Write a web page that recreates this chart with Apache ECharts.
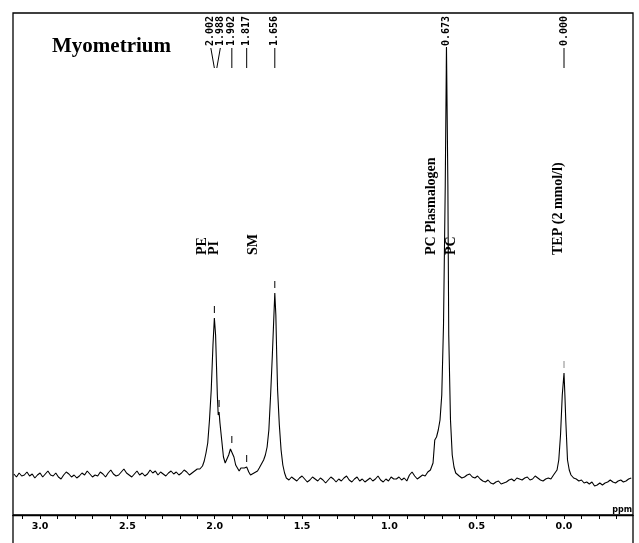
<!DOCTYPE html>
<html><head><meta charset="utf-8">
<script src="https://cdn.jsdelivr.net/npm/echarts@6/dist/echarts.min.js"></script>
<style>html,body{margin:0;padding:0;background:#fff}#c{width:639px;height:543px}</style>
</head><body><div id="c"></div>
<script>
// ---- data ----
const title = 'Myometrium';
const ppm = [
 3.150,3.135,3.120,3.105,3.090,3.075,3.060,3.045,3.030,3.015,3.000,2.985,2.970,2.955,2.940,2.925,2.910,2.895,2.880,2.865,2.850,2.835,2.820,2.805,2.790,2.775,2.760,2.745,2.730,2.715,2.700,2.685,2.670,2.655,2.640,2.625,2.610,2.595,2.580,2.565,2.550,2.535,2.520,2.505,2.490,2.475,2.460,2.445,2.430,2.415,2.400,2.385,2.370,2.355,2.340,2.325,2.310,2.295,2.280,2.265,2.250,2.235,2.220,2.205,2.190,2.175,2.160,2.145,2.130,2.115,2.100,
 2.085,2.070,2.060,2.050,2.040,2.030,2.020,2.010,2.002,1.995,1.990,1.985,1.980,1.975,1.970,1.960,1.950,1.940,1.930,1.920,1.910,1.902,1.890,1.880,1.870,1.860,1.850,1.840,1.830,1.817,1.805,1.795,1.785,1.775,1.765,1.755,1.745,1.735,1.720,1.710,1.700,1.690,1.680,1.670,1.656,1.650,1.645,1.640,1.630,1.620,1.610,1.600,
 1.590,1.575,1.560,1.545,1.530,1.515,1.500,1.485,1.470,1.455,1.440,1.425,1.410,1.395,1.380,1.365,1.350,1.335,1.320,1.305,1.290,1.275,1.260,1.245,1.230,1.215,1.200,1.185,1.170,1.155,1.140,1.125,1.110,1.095,1.080,1.065,1.050,1.035,1.020,1.005,0.990,0.975,0.960,0.945,0.930,0.915,0.900,0.885,0.870,0.855,0.840,0.825,0.810,0.795,0.780,
 0.765,0.750,0.740,0.730,0.720,0.710,0.700,0.690,0.680,0.673,0.665,0.660,0.650,0.640,0.630,0.620,
 0.600,0.585,0.570,0.555,0.540,0.525,0.510,0.495,0.480,0.465,0.450,0.435,0.420,0.405,0.390,0.375,0.360,0.345,0.330,0.315,0.300,0.285,0.270,0.255,0.240,0.225,0.210,0.195,0.180,0.165,0.150,0.135,0.120,0.105,0.090,0.075,0.060,
 0.040,0.030,0.020,0.010,0.000,-0.005,-0.010,-0.020,-0.030,-0.040,
 -0.055,-0.070,-0.085,-0.100,-0.115,-0.130,-0.145,-0.160,-0.175,-0.190,-0.205,-0.220,-0.235,-0.250,-0.265,-0.280,-0.295,-0.310,-0.325,-0.340,-0.355,-0.370,-0.385];
const intensity = [
 41,38,42,39,40,43,39,41,37,40,42,38,41,44,40,39,42,38,36,40,43,41,38,40,37,39,42,40,44,41,38,40,39,43,41,38,42,45,41,39,40,43,46,42,40,38,41,44,40,42,39,41,45,42,44,40,43,41,39,42,44,41,43,40,42,45,43,40,42,44,46,
 46,49,54,62,72,95,125,170,197,180,150,120,100,103,92,75,58,52,54,60,66,67,58,50,47,44,47,45,47,48,43,40,38,42,41,44,47,49,55,60,68,85,120,160,222,200,160,125,90,65,50,42,
 37,35,38,36,34,37,39,36,33,35,38,36,34,37,35,32,35,38,36,33,36,34,37,39,35,33,36,38,34,36,33,35,37,34,36,39,35,33,36,34,38,36,36,38,35,37,34,40,43,39,36,38,40,39,43,
 45,52,75,78,85,95,120,190,330,468,330,180,95,60,48,42,
 39,37,38,40,41,38,37,39,36,34,33,35,32,31,33,34,31,32,33,35,36,34,37,36,35,37,38,35,36,39,37,35,34,36,37,36,40,
 45,55,80,120,142,120,95,55,45,40,
 37,36,34,35,32,33,31,33,29,30,32,30,32,33,35,33,32,34,35,33,34,36,37];
const pickPpm  = [2.002, 1.988, 1.902, 1.817, 1.656, 0.673, 0.000];
const pickText = ['2.002','1.988','1.902','1.817','1.656','0.673','0.000'];
const markerPpm = [2.002, 1.975, 1.902, 1.817, 1.656, 0.000];
const nameText = ['PE','PI','SM','PC Plasmalogen','PC','TEP (2 mmol/l)'];
const namePpm  = [2.07, 2.00, 1.78, 0.76, 0.645, 0.035];
const nameLevel = 260;
const tickLabels = ['3.0','2.5','2.0','1.5','1.0','0.5','0.0'];
const minorTicks = [3.1,3.0,2.9,2.8,2.7,2.6,2.5,2.4,2.3,2.2,2.1,2.0,1.9,1.8,1.7,1.6,1.5,1.4,1.3,1.2,1.1,1.0,0.9,0.8,0.7,0.6,0.5,0.4,0.3,0.2,0.1,0.0,-0.1,-0.2,-0.3];
const axisUnit = 'ppm';

// ---- chart ----
const chart = echarts.init(document.getElementById('c'), null, {renderer:'canvas'});
const spectrum = ppm.map((p,i)=>[p,intensity[i]]);

function peakValueNear(p){
  let best = 0;
  for (let i=0;i<ppm.length;i++){ if (Math.abs(ppm[i]-p) < 0.006) best = Math.max(best, intensity[i]); }
  return best;
}

function renderAnn(params, api){
  const cs = params.coordSys;
  const top = cs.y;
  const children = [];
  const px = pickPpm.map(p => api.coord([p,0])[0]);
  let lx = px.slice();
  const gap = 9.5;
  for (let iter=0; iter<10; iter++){
    let changed = false;
    let i = 0;
    while (i < lx.length){
      let j = i;
      while (j+1 < lx.length && lx[j+1]-lx[j] < gap - 0.01) j++;
      if (j > i){
        let mean = 0; for (let k=i;k<=j;k++) mean += px[k]; mean /= (j-i+1);
        const start = mean - gap*(j-i)/2;
        for (let k=i;k<=j;k++) lx[k] = start + gap*(k-i);
        changed = true;
      }
      i = j+1;
    }
    if (!changed) break;
  }
  for (let k=0;k<px.length;k++){
    children.push({type:'text', x: lx[k], y: top+33, rotation: Math.PI/2,
      style:{text: pickText[k], align:'left', verticalAlign:'middle', font:'bold 10px "DejaVu Sans Mono"', fill:'#000'}});
    children.push({type:'line', shape:{x1: lx[k], y1: top+35, x2: px[k], y2: top+55},
      style:{stroke:'#000', lineWidth:1}});
  }
  markerPpm.forEach(p => {
    const c = api.coord([p, peakValueNear(p)]);
    children.push({type:'line', shape:{x1:c[0], y1:c[1]-5, x2:c[0], y2:c[1]-12},
      style:{stroke: p===0 ? '#888' : '#000', lineWidth:1}});
  });
  nameText.forEach((t,i) => {
    const c = api.coord([namePpm[i], nameLevel]);
    children.push({type:'text', x:c[0], y:c[1], rotation: Math.PI/2,
      style:{text:t, align:'left', verticalAlign:'middle', font:'bold 14px "Liberation Serif"', fill:'#000'}});
  });
  return {type:'group', children};
}

chart.setOption({
  animation:false,
  backgroundColor:'#fff',
  title:{text:title, left:47, top:31, textStyle:{fontFamily:'Liberation Serif', fontWeight:'bold', fontSize:21, color:'#000'}},
  grid:{left:13, right:6, top:13, bottom:28, show:true, borderColor:'#000', borderWidth:1.3, backgroundColor:'transparent'},
  xAxis:{type:'value', inverse:true, min:-0.395, max:3.155,
    name: axisUnit, nameLocation:'start', nameGap:-1,
    nameTextStyle:{align:'right', verticalAlign:'bottom', fontSize:8, fontWeight:'bold', fontFamily:'DejaVu Sans', color:'#000', padding:[0,0,1,0]},
    axisLine:{show:true, lineStyle:{color:'#000', width:1.3}},
    axisTick:{show:true, customValues: minorTicks, length:4, lineStyle:{color:'#000'}},
    axisLabel:{show:true, customValues: tickLabels.map(Number), formatter: v => Number(v).toFixed(1), margin:7, fontSize:9.5, fontWeight:'bold', fontFamily:'DejaVu Sans', color:'#000'},
    splitLine:{show:false}},
  yAxis:{type:'value', min:0, max:502, show:false},
  graphic:[
    {type:'line', shape:{x1:13, y1:515, x2:13, y2:543}, style:{stroke:'#000', lineWidth:1.3}},
    {type:'line', shape:{x1:633, y1:515, x2:633, y2:543}, style:{stroke:'#000', lineWidth:1.3}}
  ],
  series:[
    {type:'line', data: spectrum, showSymbol:false, symbol:'none', lineStyle:{color:'#000', width:1.1}, z:3},
    {type:'custom', data:[[0,0]], renderItem: renderAnn, z:4, silent:true}
  ]
});
</script></body></html>
